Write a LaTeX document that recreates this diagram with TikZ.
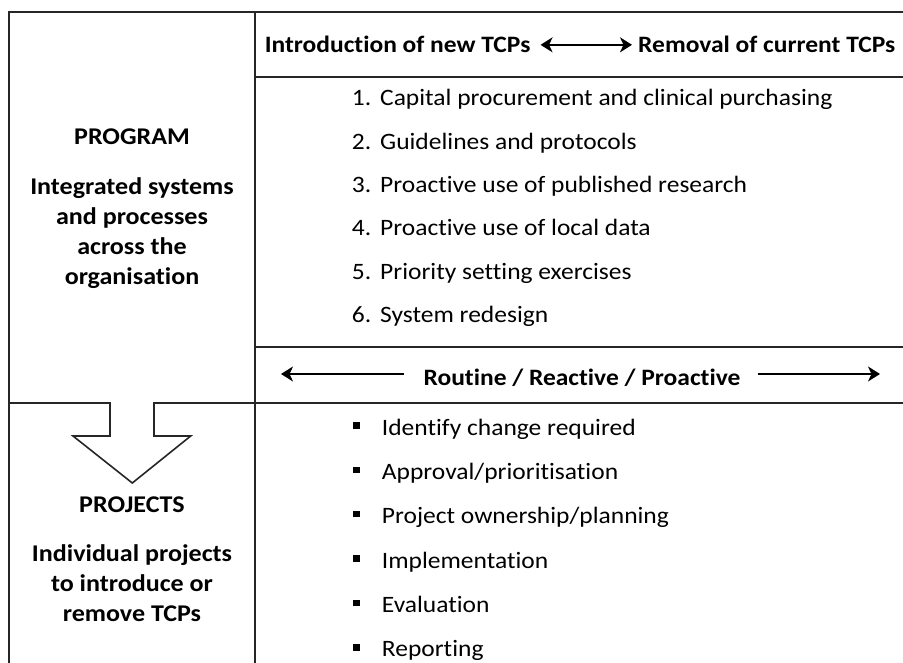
\documentclass[tikz,border=0pt]{standalone}
\usepackage{fontspec}
\setmainfont{Carlito}[FakeStretch=1.085, Ligatures=NoCommon]
\usetikzlibrary{arrows.meta,positioning}

\newcommand{\itemno}[1]{\makebox[28.3pt][l]{#1.}}

\tikzset{
  grid/.style={line width=1.6pt, draw=black!85},
  heavy/.style={line width=2.8pt, draw=black!85},
  hdr/.style={font=\fontsize{23.5}{26}\selectfont\bfseries, inner sep=0pt},
  entry/.style={font=\fontsize{23.5}{26}\selectfont, inner sep=0pt, anchor=base west},
  side/.style={font=\fontsize{24}{30}\selectfont\bfseries, align=center, inner sep=0pt},
  title/.style={font=\fontsize{24}{30}\selectfont\bfseries, inner sep=0pt, anchor=base},
  sqbullet/.style={fill=black, minimum size=6.6pt, inner sep=0pt},
  tip/.style={line width=1.6pt},
  tcp tip/.tip={Stealth[length=12pt,width=15pt,inset=3.5pt]}
}

\begin{document}
\begin{tikzpicture}[x=1pt, y=-1pt]
	\useasboundingbox (0,0) rectangle (903,663);

	% table frame
	\draw[grid] (9,663) -- (9,12) -- (903,12);
	\draw[grid] (255,12) -- (255,663);
	\draw[grid] (255,77)  -- (903,77);
	\draw[grid] (255,347) -- (903,347);
	\draw[grid] (255,403) -- (903,403);
	\draw[heavy] (9,403)  -- (110,403);
	\draw[heavy] (154,403) -- (255,403);

	% block arrow from program down to projects
	\draw[grid, line join=miter] (110,402) -- (110,436) -- (73,436) -- (132.3,483)
	      -- (190.7,436) -- (154,436) -- (154,402);

	% header row
	\node[hdr, anchor=base west] (intro)   at (264.6,53) {Introduction of new TCPs};
	\node[hdr, anchor=base west] (removal) at (638,53)   {Removal of current TCPs};
	\draw[tip, {tcp tip}-{tcp tip}, shorten <=10pt, shorten >=6pt] (intro.east) -- (removal.west);

	% left column
	\node[title] (program) at (132,145) {PROGRAM};
	\node[side]  (progtxt) at (132,233) {Integrated systems\\and processes\\across the\\organisation};
	\node[title] (projects) at (132,512) {PROJECTS};
	\node[side]  (projtxt)  at (132,583) {Individual projects\\to introduce or\\remove TCPs};

	% program components
	\node[entry] (p1) at (351.7,106)   {\itemno{1}Capital procurement and clinical purchasing};
	\node[entry] (p2) at (351.7,149.3) {\itemno{2}Guidelines and protocols};
	\node[entry] (p3) at (351.7,192.7) {\itemno{3}Proactive use of published research};
	\node[entry] (p4) at (351.7,236)   {\itemno{4}Proactive use of local data};
	\node[entry] (p5) at (351.7,279.3) {\itemno{5}Priority setting exercises};
	\node[entry] (p6) at (351.7,322.7) {\itemno{6}System redesign};

	% routine / reactive / proactive
	\node[hdr, anchor=base] (routine) at (582,385) {Routine / Reactive / Proactive};
	\coordinate (rl) at (281,374);
	\coordinate (rr) at (880,374);
	\draw[tip, -{tcp tip}] ([xshift=-19pt]routine.west |- rl) -- (rl);
	\draw[tip, -{tcp tip}] ([xshift=17pt]routine.east |- rr) -- (rr);

	% project steps
	\node[entry] (s1) at (381.7,435)   {Identify change required};
	\node[entry] (s2) at (381.7,479.3) {Approval/prioritisation};
	\node[entry] (s3) at (381.7,523.6) {Project ownership/planning};
	\node[entry] (s4) at (381.7,568)   {Implementation};
	\node[entry] (s5) at (381.7,612.3) {Evaluation};
	\node[entry] (s6) at (381.7,656.7) {Reporting};
	\node[sqbullet] (b1) at (356.7,425.5) {};
	\node[sqbullet] (b2) at (356.7,469.8) {};
	\node[sqbullet] (b3) at (356.7,514.1) {};
	\node[sqbullet] (b4) at (356.7,558.5) {};
	\node[sqbullet] (b5) at (356.7,602.8) {};
	\node[sqbullet] (b6) at (356.7,647.2) {};
\end{tikzpicture}
\end{document}
